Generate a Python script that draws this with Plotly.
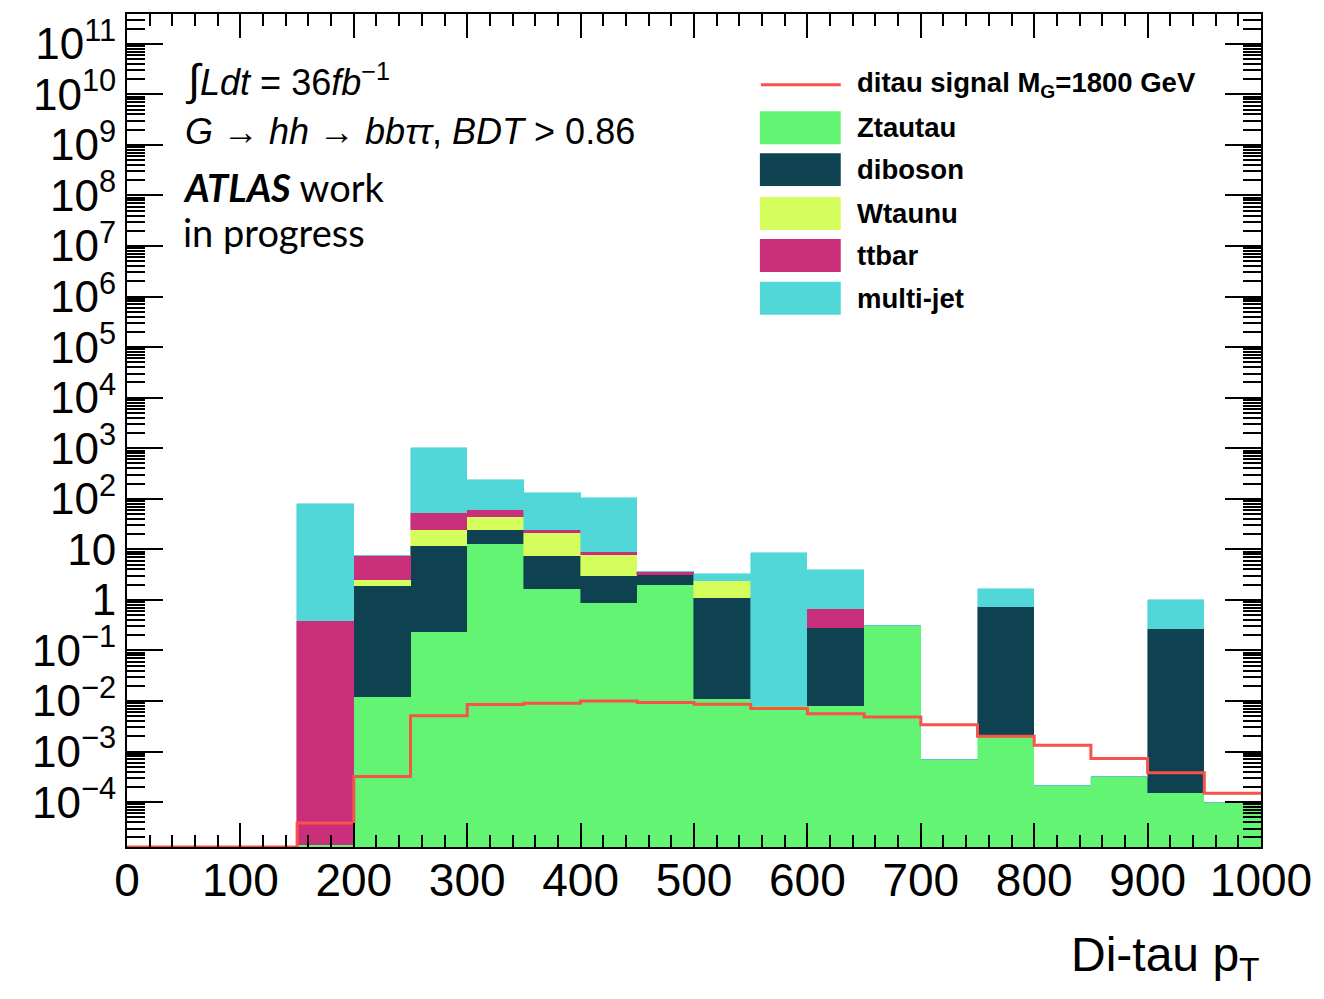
import plotly.graph_objects as go

# Di-tau pT binning: 20 bins of 50 GeV from 0 to 1000
bin_edges = list(range(0, 1050, 50))
bin_centers = [e + 25 for e in bin_edges[:-1]]

# Background yields per bin (stacked in this order, bottom to top)
ztautau = [0, 0, 0, 1.4e-5, 0.012, 0.237, 12.8, 1.67, 0.87, 1.98,
           0.0108, 0.0079, 0.0078, 0.307, 6.7e-4, 1.95e-3, 2.07e-4, 3.07e-4, 1.49e-4, 9.7e-5]
diboson = [0, 0, 0, 0, 1.91, 11.3, 11.6, 5.83, 2.15, 1.08,
           1.09, 0, 0.276, 0, 0, 0.714, 0, 0, 0.26, 0]
wtaunu = [0, 0, 0, 0, 0.56, 12.9, 19.7, 13.5, 4.72, 0,
          1.23, 0, 0, 0, 0, 0, 0, 0, 0, 0]
ttbar = [0, 0, 0, 0.39, 5.02, 27.8, 16.6, 3.1, 0.96, 0.45,
         0, 0, 0.369, 0, 0, 0, 0, 0, 0, 0]
multijet = [0, 0, 0, 79.2, 0, 948, 176, 109, 94, 0,
            0.94, 8.29, 3.27, 0, 0, 0.93, 0, 0, 0.74, 0]

# Signal expectation (drawn as an outline, not stacked)
signal = [0, 0, 0, 3.85e-5, 3.2e-4, 5.1e-3, 8.5e-3, 9.0e-3, 1.0e-2, 9.3e-3,
          8.6e-3, 7.1e-3, 5.6e-3, 4.8e-3, 3.4e-3, 2.0e-3, 1.33e-3, 7.3e-4, 3.8e-4, 1.5e-4]

background_names = ["Ztautau", "diboson", "Wtaunu", "ttbar", "multi-jet"]
background_values = [ztautau, diboson, wtaunu, ttbar, multijet]
background_colors = ["#64F474", "#0F4251", "#D5FD5C", "#C92F7B", "#52D7D8"]
signal_name = "ditau signal M<sub>G</sub>=1800 GeV"
signal_color = "#F8524A"

y_exp_range = [-4.888, 11.59]
y_floor = 10 ** y_exp_range[0]

ROOT_FONT = "Liberation Sans, Arial, Helvetica, sans-serif"

fig = go.Figure()

for name, vals, col in zip(background_names, background_values, background_colors):
    fig.add_trace(go.Bar(
        x=bin_centers, y=vals, width=50, name=name,
        marker=dict(color=col, line=dict(width=0.6, color=col)),
        hoverinfo="skip", showlegend=False,
    ))

# step outline of the signal; empty bins sit on the frame floor
sig_y = [max(v, y_floor) for v in signal]
fig.add_trace(go.Scatter(
    x=bin_edges, y=sig_y + [sig_y[-1]], mode="lines", line_shape="hv",
    line=dict(color=signal_color, width=3), name=signal_name,
    hoverinfo="skip", showlegend=False,
))

# axis ticks
x_major = list(range(0, 1001, 100))
x_minor = [v for v in range(0, 1001, 20) if v % 100]
y_exps = list(range(-4, 12))
y_major = [10.0 ** k for k in y_exps]
y_text = []
for k in y_exps:
    if k == 0:
        y_text.append("1")
    elif k == 1:
        y_text.append("10")
    else:
        y_text.append("10<sup>%s</sup>" % (str(k).replace("-", "\u2212")))
y_minor = [m * 10.0 ** k for k in range(-5, 12) for m in range(2, 10)]

fig.update_layout(
    width=1324, height=999,
    margin=dict(l=127, r=61, t=12, b=152),
    plot_bgcolor="white", paper_bgcolor="white",
    barmode="stack", bargap=0, showlegend=False,
    xaxis=dict(
        range=[0, 1000], tickmode="array", tickvals=x_major,
        ticks="inside", ticklen=24, tickwidth=1.5, tickcolor="black",
        showline=True, linecolor="black", linewidth=2, mirror="allticks",
        showgrid=False, zeroline=False,
        tickfont=dict(family=ROOT_FONT, size=46, color="black"),
        ticklabelstandoff=-8,
        minor=dict(tickmode="array", tickvals=x_minor, ticks="inside",
                   ticklen=12, tickwidth=1.5, tickcolor="black", showgrid=False),
    ),
    yaxis=dict(
        type="log", range=y_exp_range, tickmode="array",
        tickvals=y_major, ticktext=y_text,
        ticks="inside", ticklen=36, tickwidth=1.5, tickcolor="black",
        showline=True, linecolor="black", linewidth=2, mirror="allticks",
        showgrid=False, zeroline=False,
        tickfont=dict(family=ROOT_FONT, size=44, color="black"),
        minor=dict(tickmode="array", tickvals=y_minor, ticks="inside",
                   ticklen=18, tickwidth=1.5, tickcolor="black", showgrid=False),
    ),
)

# pixel -> paper helpers for the plot frame (127..1263, 12..847)
def px(xp):
    return (xp - 127) / 1136.0

def py(yp):
    return (847 - yp) / 835.0

calibri_like = dict(family="Lato, Carlito, sans-serif", size=38, color="black")
annotations = [
    dict(text="<span style='font-size:44px'>\u222B</span><i>Ldt</i> = 36<i>fb</i><sup>\u22121</sup>",
         x=px(183), y=py(78), xanchor="left", yanchor="middle",
         font=dict(family=ROOT_FONT, size=36, color="black")),
    dict(text="<i>G</i> \u2192 <i>hh</i> \u2192 <i>bb\u03C4\u03C4</i>, <i>BDT</i> > 0.86",
         x=px(183), y=py(130), xanchor="left", yanchor="middle",
         font=dict(family=ROOT_FONT, size=36, color="black")),
    dict(text="<b><i>ATLAS</i></b> work",
         x=px(181), y=py(185), xanchor="left", yanchor="middle", font=calibri_like),
    dict(text="in progress",
         x=px(181), y=py(231), xanchor="left", yanchor="middle", font=calibri_like),
    dict(text="Di-tau p<sub>T</sub>",
         x=px(1264), y=py(990), xanchor="right", yanchor="bottom",
         font=dict(family=ROOT_FONT, size=48, color="black")),
]

# legend: coloured boxes and a line sample with bold labels
legend_rows = [83, 126, 168, 212, 254, 297]
legend_labels = [signal_name] + background_names
shapes = [dict(type="line", xref="paper", yref="paper",
               x0=px(762), x1=px(842), y0=py(legend_rows[0]), y1=py(legend_rows[0]),
               line=dict(color=signal_color, width=3))]
for row, col in zip(legend_rows[1:], background_colors):
    shapes.append(dict(type="rect", xref="paper", yref="paper",
                       x0=px(761), x1=px(842), y0=py(row - 16.5), y1=py(row + 16.5),
                       fillcolor=col, line=dict(width=0)))
for row, lab in zip(legend_rows, legend_labels):
    annotations.append(dict(text="<b>%s</b>" % lab, x=px(856), y=py(row),
                            xanchor="left", yanchor="middle",
                            font=dict(family=ROOT_FONT, size=27.5, color="black")))

for a in annotations:
    a.setdefault("xref", "paper")
    a.setdefault("yref", "paper")
    a["showarrow"] = False
fig.update_layout(annotations=annotations, shapes=shapes)

fig.write_html("out.html")
